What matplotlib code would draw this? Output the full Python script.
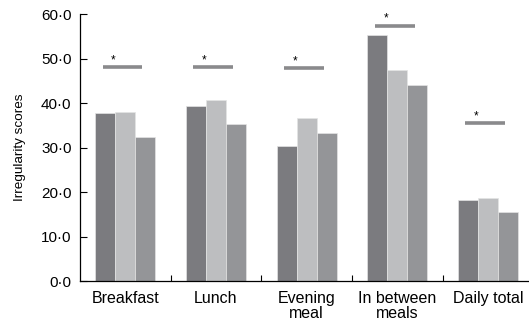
import numpy as np
import matplotlib.pyplot as plt
from matplotlib.ticker import FuncFormatter

plt.rcParams['font.family'] = ['Liberation Sans', 'DejaVu Sans']

categories = ["Breakfast", "Lunch", "Evening\nmeal", "In between\nmeals", "Daily total"]
group_a = [37.8, 39.4, 30.3, 55.3, 18.3]
group_b = [37.9, 40.7, 36.6, 47.4, 18.7]
group_c = [32.4, 35.2, 33.3, 44.1, 15.5]
# significance bar heights per category
sig_levels = [48.0, 48.0, 47.8, 57.4, 35.4]

colors = ["#7b7b7f", "#bdbec0", "#949598"]

fig = plt.figure(figsize=(5.29, 3.26), dpi=100)
ax = fig.add_axes([0.151, 0.138, 0.849, 0.819])

x = np.arange(len(categories))
w = 0.22
for i, (vals, c) in enumerate(zip([group_a, group_b, group_c], colors)):
    ax.bar(x + (i - 1) * w, vals, width=w, color=c, edgecolor="#e4e4e4",
           linewidth=0.5)

for xi, lvl in zip(x, sig_levels):
    ax.plot([xi - 0.25, xi + 0.19], [lvl, lvl], color="#8a8a8c", lw=2.6,
            solid_capstyle="butt")
    ax.text(xi - 0.13, lvl + 0.3, "*", ha="center", va="bottom", fontsize=8.5)

ax.set_xlim(-0.5, 4.45)
ax.set_ylim(0, 60)
ax.set_yticks(np.arange(0, 61, 10))
ax.yaxis.set_major_formatter(FuncFormatter(lambda v, _: f"{v:.1f}".replace(".", "·")))
ax.set_xticks(x)
ax.set_xticklabels(categories, fontsize=11.5, linespacing=1.05)
ax.set_xticks(np.arange(0.5, 4.5, 1), minor=True)
ax.tick_params(axis="x", which="major", length=0, pad=7)
ax.tick_params(axis="x", which="minor", direction="in", length=4, width=0.8)
ax.tick_params(axis="y", direction="in", length=5, width=0.8, labelsize=11, pad=6)
ax.set_ylabel("Irregularity scores", fontsize=9.7, labelpad=11)

for s in ["top", "right"]:
    ax.spines[s].set_visible(False)
for s in ["left", "bottom"]:
    ax.spines[s].set_linewidth(0.9)

fig.savefig("out.png", dpi=100)
